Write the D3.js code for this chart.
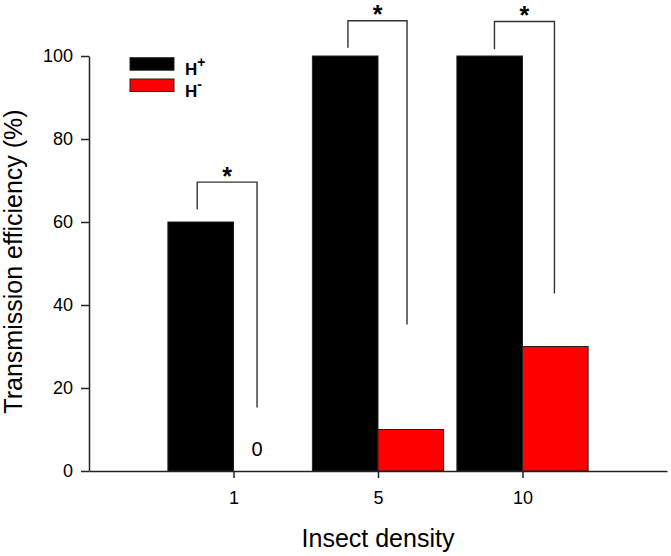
<!DOCTYPE html>
<html>
<head>
<meta charset="utf-8">
<script src="https://cdn.jsdelivr.net/npm/d3@7"></script>
<style>
  html, body { margin: 0; padding: 0; background: #fff; }
  svg { display: block; font-family: "Liberation Sans", Arial, sans-serif; }
</style>
</head>
<body>
<svg id="chart" width="671" height="556"></svg>
<script>
// ---- data ----
const categories = ["1", "5", "10"];
const hPlus = [60, 100, 100];
const hMinus = [0, 10, 30];
const seriesNames = ["+", "-"];
const seriesColors = ["#000000", "#ff0000"];
const yTicks = [0, 20, 40, 60, 80, 100];
const sigLabels = ["*", "*", "*"];
// significance bracket heights (in % units)
const bracketLeftY = [63, 102, 101.6];
const bracketTopY = [69.6, 108.5, 108.3];
const bracketRightY = [15.3, 35.3, 42.8];
// bracket ends relative to category position (in category units)
const bracketLeftX = [-0.251, -0.208, -0.194];
const bracketRightX = [0.163, 0.201, 0.221];
const zeroLabels = ["0", "", ""];

// ---- layout ----
const svg = d3.select("#chart");
const mLeft = 89, mRight = 667, mTop = 56, mBottom = 471;
const barW = 0.454; // in category units

const x = d3.scaleLinear().domain([0, categories.length + 1]).range([mLeft, mRight]);
const y = d3.scaleLinear().domain([0, 100]).range([mBottom, mTop]);

// bars
const groups = categories.map((c, i) => ({ c, i, pos: i + 1, vals: [hPlus[i], hMinus[i]] }));
const g = svg.append("g");
groups.forEach(d => {
  d.vals.forEach((v, s) => {
    const x0 = s === 0 ? d.pos - barW : d.pos;
    if (v <= 0) return;
    g.append("rect")
      .attr("x", x(x0))
      .attr("y", y(v))
      .attr("width", x(x0 + barW) - x(x0))
      .attr("height", y(0) - y(v))
      .attr("fill", seriesColors[s])
      .attr("stroke", "#222")
      .attr("stroke-width", 1);
  });
});

// y axis
const yAxis = d3.axisLeft(y).tickValues(yTicks).tickSize(8).tickSizeOuter(0).tickPadding(8);
const ya = svg.append("g").attr("transform", `translate(${mLeft},0)`).call(yAxis);
ya.select(".domain").attr("stroke", "#222").attr("stroke-width", 1.5);
ya.selectAll(".tick line").attr("stroke", "#222").attr("stroke-width", 1.5);
ya.selectAll(".tick text").attr("font-size", 18).attr("fill", "#000")
  .style("font-family", '"Liberation Sans", Arial, sans-serif');

// x axis
const xAxis = d3.axisBottom(x).tickValues(groups.map(d => d.pos))
  .tickFormat((d) => categories[d - 1]).tickSize(7).tickSizeOuter(0).tickPadding(13);
const xa = svg.append("g").attr("transform", `translate(0,${mBottom})`).call(xAxis);
xa.select(".domain").attr("stroke", "#222").attr("stroke-width", 1.5);
xa.selectAll(".tick line").attr("stroke", "#222").attr("stroke-width", 1.5);
xa.selectAll(".tick text").attr("font-size", 18).attr("fill", "#000")
  .style("font-family", '"Liberation Sans", Arial, sans-serif');

// significance brackets
groups.forEach(d => {
  const i = d.i;
  const xl = x(d.pos + bracketLeftX[i]);
  const xr = x(d.pos + bracketRightX[i]);
  const path = d3.path();
  path.moveTo(xl, y(bracketLeftY[i]));
  path.lineTo(xl, y(bracketTopY[i]));
  path.lineTo(xr, y(bracketTopY[i]));
  path.lineTo(xr, y(bracketRightY[i]));
  svg.append("path").attr("d", path.toString())
    .attr("fill", "none").attr("stroke", "#333").attr("stroke-width", 1.4);
  svg.append("text")
    .attr("x", (xl + xr) / 2)
    .attr("y", y(bracketTopY[i]) + 2.5)
    .attr("text-anchor", "middle")
    .attr("font-size", 25)
    .attr("font-weight", "bold")
    .text(sigLabels[i]);
  if (zeroLabels[i]) {
    svg.append("text")
      .attr("x", xr)
      .attr("y", y(0) - 15)
      .attr("text-anchor", "middle")
      .attr("font-size", 20)
      .text(zeroLabels[i]);
  }
});

// legend
const legY = [57.7, 79];
seriesNames.forEach((n, s) => {
  svg.append("rect")
    .attr("x", 130).attr("y", legY[s])
    .attr("width", 44).attr("height", 12.5)
    .attr("fill", seriesColors[s]).attr("stroke", "#222").attr("stroke-width", 1);
  const t = svg.append("text")
    .attr("x", 185).attr("y", legY[s] + 17.5)
    .attr("font-size", 17).attr("font-weight", "bold");
  t.append("tspan").text("H");
  t.append("tspan").attr("dy", -8).attr("font-size", 14).text(n);
});

// axis titles
svg.append("text")
  .attr("x", (mLeft + mRight) / 2)
  .attr("y", 546.5)
  .attr("text-anchor", "middle")
  .attr("font-size", 25)
  .text("Insect density");

svg.append("text")
  .attr("transform", `translate(22,${(mTop + mBottom) / 2 - 2}) rotate(-90)`)
  .attr("text-anchor", "middle")
  .attr("font-size", 25)
  .text("Transmission efficiency (%)");
</script>
</body>
</html>
